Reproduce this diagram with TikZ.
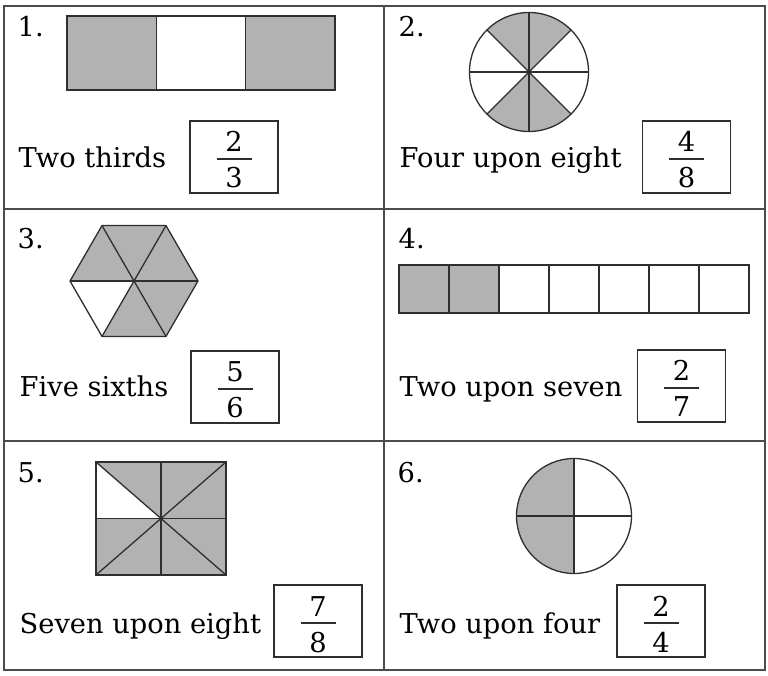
\documentclass[tikz,border=0pt]{standalone}
\usepackage{fontspec}
\setmainfont{DejaVu Serif}
\definecolor{partgray}{gray}{0.70}
\definecolor{ink}{gray}{0.18}
\def\txtsize{\fontsize{27.3}{33}\selectfont}
\def\barhalf{17.5pt}

% answer box: name, centre, numerator, denominator
\newcommand{\fracbox}[4]{%
	\node[answer] (A-#1) at (#2) {};
	\node[digit] (N-#1) at ([yshift=5pt]A-#1.center) {#3};
	\node[digit] (D-#1) at ([yshift=-31pt]A-#1.center) {#4};
	\draw[fracbar] ([xshift=-\barhalf,yshift=-2pt]A-#1.center) -- ([xshift=\barhalf,yshift=-2pt]A-#1.center);
}

\begin{document}
\begin{tikzpicture}[x=1pt, y=1pt, line width=1.3pt, draw=ink]
		\tikzstyle{cell num}
		=[anchor=base west, inner sep=0pt, font=\txtsize]
		\tikzstyle{words}
		=[anchor=base west, inner sep=0pt, font=\txtsize]
		\tikzstyle{answer}
		=[rectangle, draw=ink, line width=1.3pt, minimum width=88pt, minimum height=72pt, inner sep=0pt]
		\tikzstyle{digit}
		=[anchor=base, inner sep=0pt, font=\txtsize]
		\tikzstyle{fracbar}
		=[draw=ink, line width=1.2pt]
		\tikzstyle{grid line}
		=[draw=black!70, line width=1.8pt]
		
		\useasboundingbox (0,0) rectangle (768,675);
		
		% Draw the frame and the cell borders
		\draw[grid line] (4,5) rectangle (765,669);
		\draw[grid line] (384,5) -- (384,669);
		\foreach \y in {234,466} \draw[grid line] (4,\y) -- (765,\y);
		
		% Number the cells
		\foreach \name / \x / \y in {1/17/638, 2/398/638, 3/17/426, 4/398/426, 5/17/192, 6/397/192}
		\node[cell num] (C-\name) at (\x,\y) {\name.};
		
		% Write the words
		\node[words] (W-1) at (18,507) {Two thirds};
		\node[words] (W-2) at (399,507) {Four upon eight};
		\node[words] (W-3) at (19,278) {Five sixths};
		\node[words] (W-4) at (399,278) {Two upon seven};
		\node[words] (W-5) at (19,42) {Seven upon eight};
		\node[words] (W-6) at (399,42) {Two upon four};
		
		% Draw the answer boxes
		\fracbox{1}{234,518}{2}{3}
		\fracbox{2}{686.5,518}{4}{8}
		\fracbox{3}{235,288}{5}{6}
		\fracbox{4}{681.5,289}{2}{7}
		\fracbox{5}{318,54}{7}{8}
		\fracbox{6}{661,54}{2}{4}
		
		% Shape 1: a bar cut in three
		\foreach \i / \f in {0/partgray, 1/white, 2/partgray}
		\draw[fill=\f] ({67+89.33*\i},585) rectangle ++(89.33,74);
		
		% Shape 2: a circle cut in eight
		\coordinate (O-2) at (529,603);
		\foreach \a in {45,225} \fill[partgray] (O-2) -- ++(\a:59.5pt)
		arc[start angle=\a, delta angle=90, radius=59.5pt] -- cycle;
		\draw (O-2) circle[radius=59.5pt];
		\foreach \a in {0,45,90,135} \draw (O-2) ++(\a:59.5pt) -- ++(\a+180:119pt);
		
		% Shape 3: a hexagon cut in six
		\coordinate (O-3) at (134,394);
		\foreach \a in {0,60,120,240,300} \fill[partgray] (O-3) -- ++(\a:64pt) -- ++(\a+120:64pt) -- cycle;
		\draw (O-3) ++(0:64pt) -- ++(120:64pt) -- ++(180:64pt) -- ++(240:64pt)
		-- ++(300:64pt) -- ++(0:64pt) -- cycle;
		\foreach \a in {0,60,120} \draw (O-3) ++(\a:64pt) -- ++(\a+180:128pt);
		
		% Shape 4: a bar cut in seven
		\foreach \i in {0,1} \fill[partgray] ({399+50*\i},362) rectangle ++(50,48);
		\foreach \i in {0,...,6} \draw ({399+50*\i},362) rectangle ++(50,48);
		
		% Shape 5: a box cut in eight
		\coordinate (O-5) at (161,156.5);
		\fill[partgray] (96,100) rectangle (226,213);
		\fill[white] (O-5) -- (96,156.5) -- (96,213) -- cycle;
		\draw (96,100) rectangle (226,213);
		\draw (96,156.5) -- (226,156.5);
		\draw (161,100) -- (161,213);
		\draw (96,100) -- (226,213);
		\draw (96,213) -- (226,100);
		
		% Shape 6: a circle cut in four
		\coordinate (O-6) at (574,159);
		\fill[partgray] (O-6) -- ++(90:57.5pt) arc[start angle=90, end angle=270, radius=57.5pt] -- cycle;
		\draw (O-6) circle[radius=57.5pt];
		\draw (O-6) ++(0:57.5pt) -- ++(180:115pt);
		\draw (O-6) ++(90:57.5pt) -- ++(270:115pt);
	\end{tikzpicture}
\end{document}
